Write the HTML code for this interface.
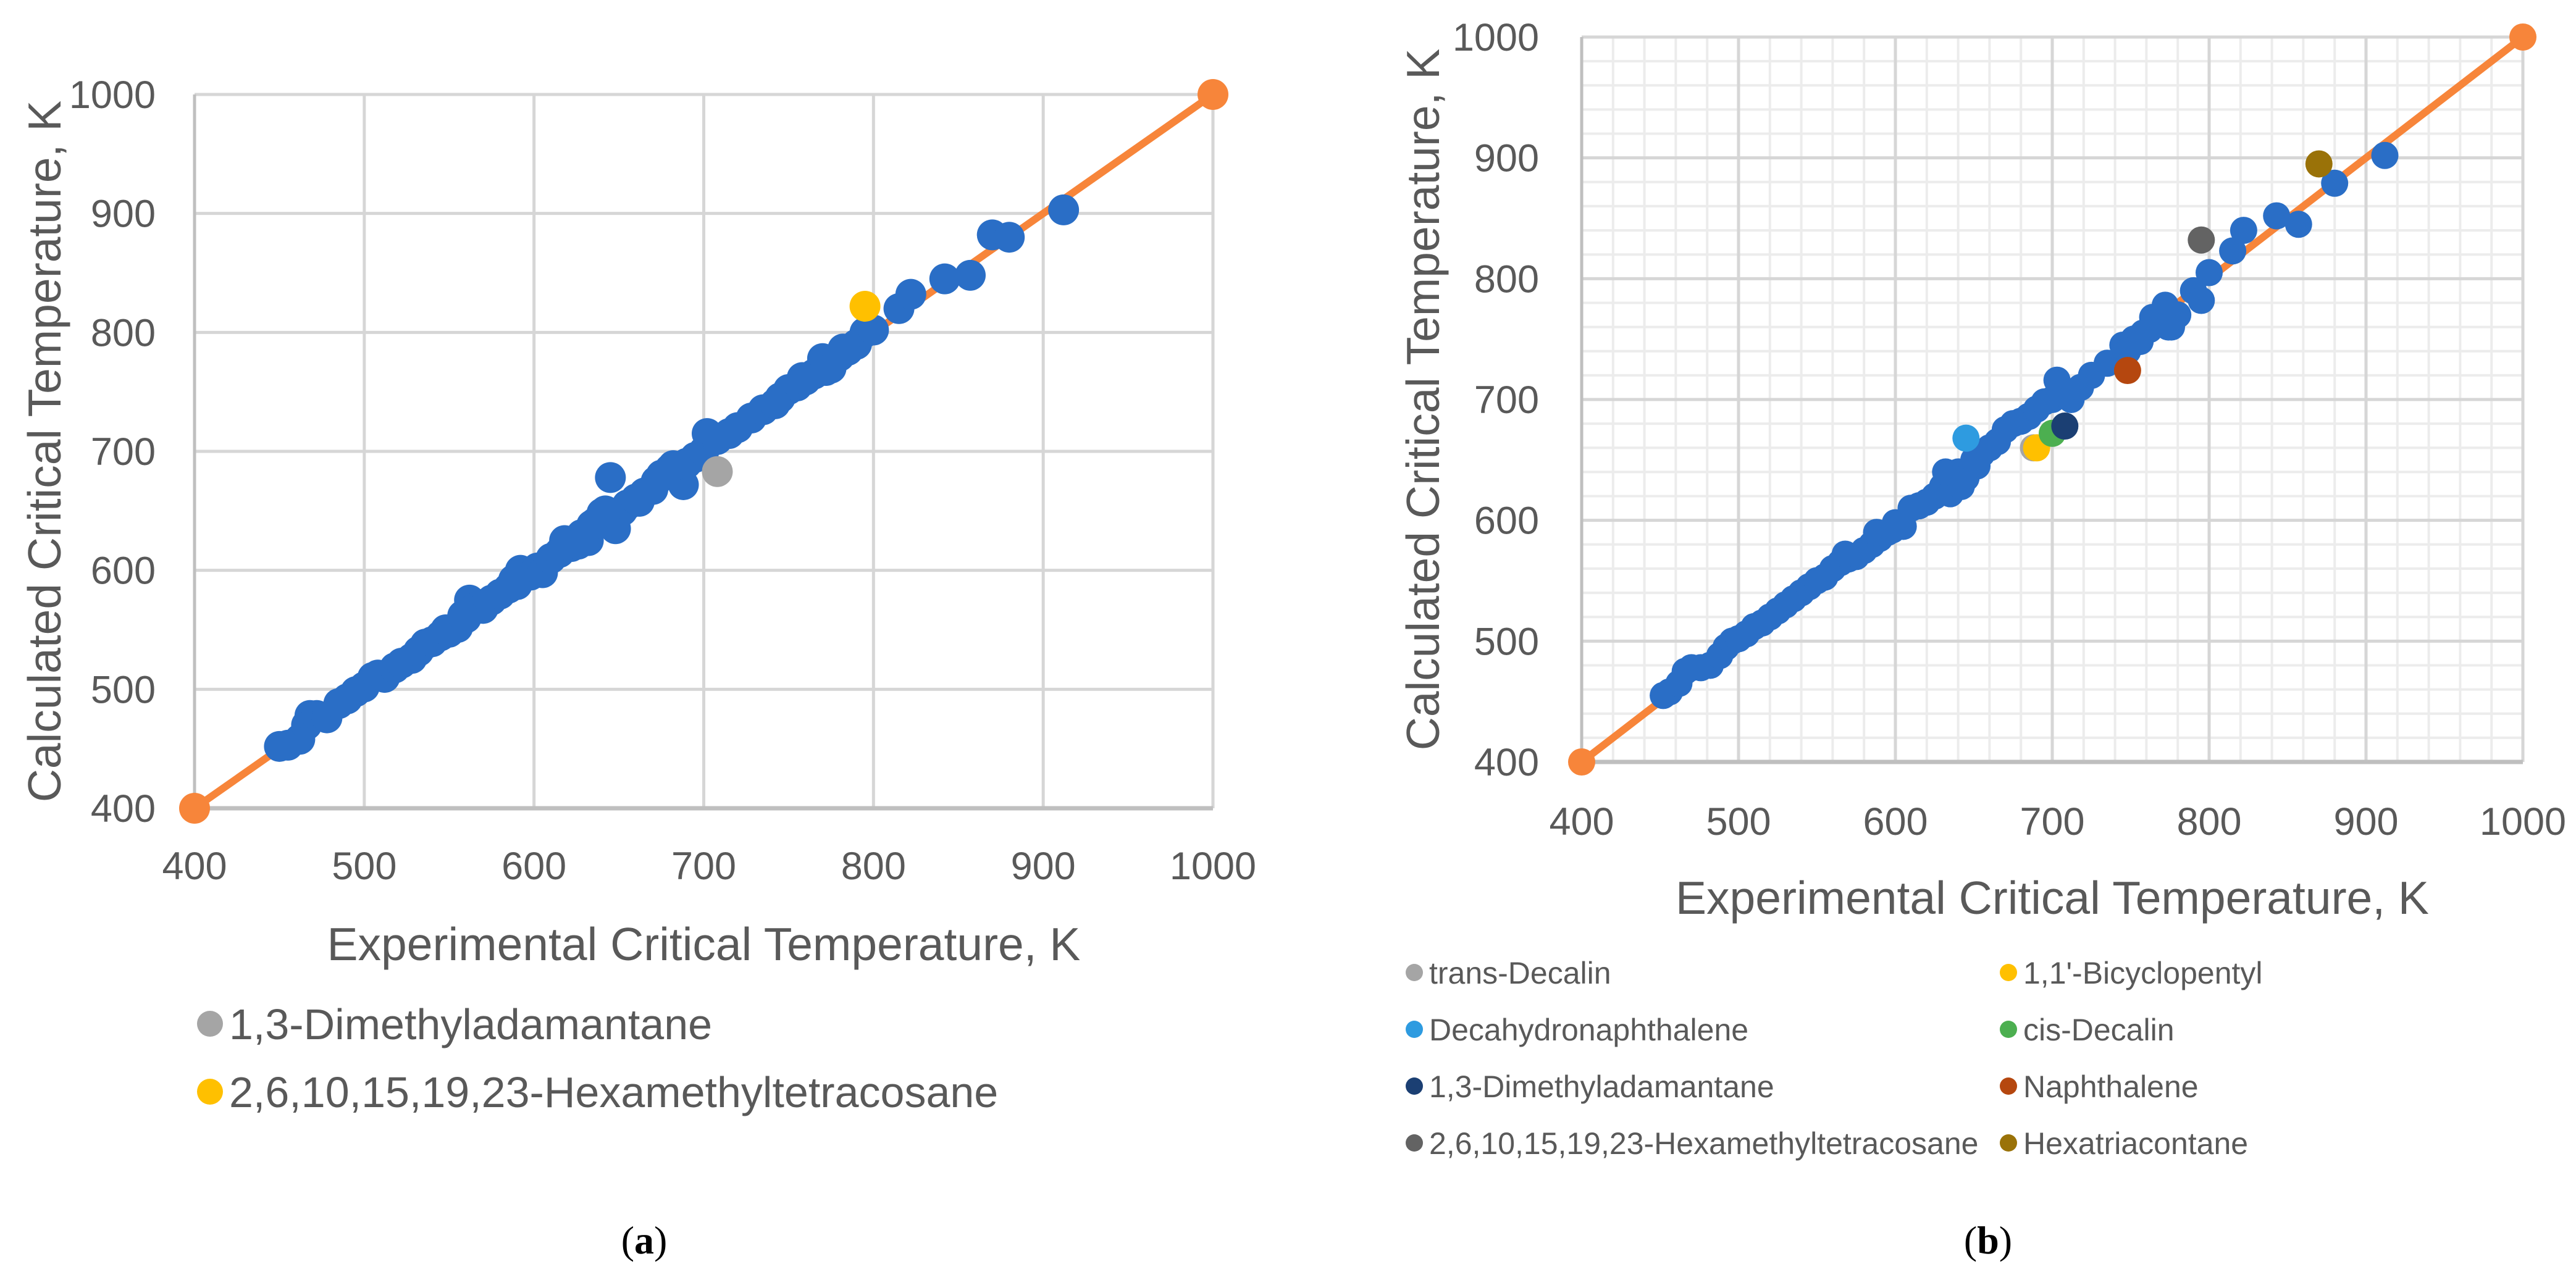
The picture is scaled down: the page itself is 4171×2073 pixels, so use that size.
<!DOCTYPE html>
<html><head><meta charset="utf-8"><style>
html,body{margin:0;padding:0;background:#fff;}
svg{display:block;font-family:"Liberation Sans",sans-serif;}
</style></head><body>
<svg id="fig" width="4171" height="2073" viewBox="0 0 4171 2073" xmlns="http://www.w3.org/2000/svg"></svg>
<script>
// ---- chart (a) data ----
const aExp = [450,455,462,466,468,472,478,485,490,495,500,505,508,512,518,522,528,532,536,540,545,550,555,560,562,565,570,575,580,585,590,592,598,602,605,610,615,618,622,628,632,636,640,645,648,652,655,660,665,670,675,680,685,688,690,695,700,702,708,715,720,728,735,745,750,755,760,765,770,775,780,785,790,795,800,815,822,842,857,870,880,912,548,558,588,626,634,642,662,672,682,742,758,772,782];
const aCalc = [452,453,458,470,478,478,476,488,492,498,502,510,512,510,518,522,526,532,538,540,545,548,552,560,575,568,568,575,580,585,588,600,596,602,598,610,615,625,620,630,625,640,648,678,635,650,655,660,665,668,680,685,682,672,690,695,700,715,710,715,720,728,735,745,752,755,760,765,778,770,780,785,790,800,802,820,832,845,848,882,880,903,550,562,592,622,638,650,658,675,688,740,762,768,786];
const aSpecialNames = ["1,3-Dimethyladamantane","2,6,10,15,19,23-Hexamethyltetracosane"];
const aSpecialExp = [708,795];
const aSpecialCalc = [683,822];
const aSpecialColors = ["#a5a5a5","#ffc000"];
// ---- chart (b) data ----
const bExp = [452,456,462,466,470,476,482,488,492,496,500,505,510,515,520,525,530,535,540,545,550,555,560,565,570,575,580,585,590,595,600,605,610,615,620,625,630,635,640,645,650,655,660,665,670,675,680,685,690,695,700,703,706,712,718,725,735,745,752,758,762,766,770,772,776,780,790,795,800,815,822,843,857,880,912,568,588,598,632,642,652,748,756,764,774];
const bCalc = [455,458,465,475,478,478,480,488,495,500,502,506,512,515,520,525,530,535,540,545,550,553,560,565,568,570,575,580,585,590,598,595,610,612,615,620,628,622,640,635,650,655,660,665,675,680,682,686,692,698,700,716,705,700,710,720,730,745,750,755,758,762,770,778,760,770,790,782,805,823,840,852,845,879,902,572,590,592,640,628,645,740,748,768,760];
const bSpecialNames = ["trans-Decalin","1,1'-Bicyclopentyl","Decahydronaphthalene","cis-Decalin","1,3-Dimethyladamantane","Naphthalene","2,6,10,15,19,23-Hexamethyltetracosane","Hexatriacontane"];
const bSpecialExp = [688,690,645,700,708,748,795,870];
const bSpecialCalc = [660,660,668,672,678,724,832,895];
const bSpecialColors = ["#a5a5a5","#ffc000","#2e9be0","#4caf50","#1b3f73","#b5470f","#636363","#9a7208"];
const axisTicks = [400,500,600,700,800,900,1000];
const lineEnds = [400,1000];

const NS="http://www.w3.org/2000/svg";
const svg=document.getElementById('fig');
function mk(tag,attrs,parent){const e=document.createElementNS(NS,tag);for(const k in attrs)e.setAttribute(k,attrs[k]);(parent||svg).appendChild(e);return e;}

function drawChart(c){
  const g=mk('g',{});
  
  
  const sx=v=>c.x0+(v-400)/600*(c.x1-c.x0);
  const sy=v=>c.y0-(v-400)/600*(c.y0-c.y1);
  if(c.minor){
    for(let v=420;v<1000;v+=20){ if(v%100===0) continue;
      const l1=mk('line',{x1:sx(v),x2:sx(v),y1:sy(400),y2:sy(1000),stroke:'#ececec','stroke-width':4},g);
      
      
      const l2=mk('line',{x1:sx(400),x2:sx(1000),y1:sy(v),y2:sy(v),stroke:'#ececec','stroke-width':4},g);
      
      
    }
  }
  axisTicks.forEach(v=>{
    const l1=mk('line',{x1:sx(v),x2:sx(v),y1:sy(400),y2:sy(1000),stroke:'#d6d6d6','stroke-width':5},g);
    
    
    const l2=mk('line',{x1:sx(400),x2:sx(1000),y1:sy(v),y2:sy(v),stroke:'#d6d6d6','stroke-width':5},g);
    
    
    const tx=mk('text',{x:sx(v),y:c.xTickY,'font-size':c.tickFs,fill:'#595959','text-anchor':'middle'},g);
    tx.textContent=v;
    
    
    const ty=mk('text',{x:c.yTickX,y:sy(v)+c.tickFs*0.35,'font-size':c.tickFs,fill:'#595959','text-anchor':'end'},g);
    ty.textContent=v;
    
    
  });
  const ax=mk('line',{x1:sx(400),x2:sx(1000),y1:sy(400),y2:sy(400),stroke:'#bfbfbf','stroke-width':7},g);
  
  
  const ay=mk('line',{x1:sx(400),x2:sx(400),y1:sy(400),y2:sy(1000),stroke:'#bfbfbf','stroke-width':5},g);
  
  
  const ln=mk('line',{x1:sx(lineEnds[0]),y1:sy(lineEnds[0]),x2:sx(lineEnds[1]),y2:sy(lineEnds[1]),stroke:'#f7853a','stroke-width':12},g);
  
  
  lineEnds.forEach(v=>{
    const e=mk('circle',{cx:sx(v),cy:sy(v),r:c.r,fill:'#f7853a'},g);
    
    
  });
  c.exp.forEach((v,i)=>{
    const p=mk('circle',{cx:sx(v),cy:sy(c.calc[i]),r:c.r,fill:'#2a6ec6'},g);
    
    
  });
  c.sExp.forEach((v,i)=>{
    const p=mk('circle',{cx:sx(v),cy:sy(c.sCalc[i]),r:c.r,fill:c.sCol[i]},g);
    
    
  });
  const xt=mk('text',{x:(c.x0+c.x1)/2,y:c.xTitleY,'font-size':c.titleFs,fill:'#595959','text-anchor':'middle'},g);
  xt.textContent='Experimental Critical Temperature, K';
  
  
  const yt=mk('text',{x:0,y:0,'font-size':c.titleFs,fill:'#595959','text-anchor':'middle',transform:`translate(${c.yTitleX},${(c.y0+c.y1)/2}) rotate(-90)`},g);
  yt.textContent='Calculated Critical Temperature, K';
  
  
  c.names.forEach((n,i)=>{
    const col=c.legCols?i%2:0, row=c.legCols?Math.floor(i/2):i;
    const lx=c.legX[col], ly=c.legY0+row*c.legDy;
    const m=mk('circle',{cx:lx,cy:ly,r:c.legR,fill:c.sCol[i]},g);
    
    
    const t=mk('text',{x:lx+c.legR+10,y:ly+c.legFs*0.36,'font-size':c.legFs,fill:'#595959'},g);
    t.textContent=n;
    
    
  });
  const cap=mk('text',{x:c.capX,y:2030,'font-size':64,fill:'#000','text-anchor':'middle','font-family':'Liberation Serif, serif'},g);
  cap.innerHTML='(<tspan font-weight="bold">'+c.id+'</tspan>)';
  
  
}

drawChart({id:'a',x0:315,x1:1964,y0:1309,y1:153,minor:false,r:25,exp:aExp,calc:aCalc,sExp:aSpecialExp,sCalc:aSpecialCalc,sCol:aSpecialColors,names:aSpecialNames,
  tickFs:63,xTickY:1424,yTickX:252,titleFs:75,xTitleY:1555,yTitleX:98,legCols:false,legX:[340],legY0:1658,legDy:110,legR:21,legFs:70,capX:1043});
drawChart({id:'b',x0:2561,x1:4085,y0:1234,y1:60,minor:true,r:22,exp:bExp,calc:bCalc,sExp:bSpecialExp,sCalc:bSpecialCalc,sCol:bSpecialColors,names:bSpecialNames,
  tickFs:63,xTickY:1352,yTickX:2492,titleFs:75,xTitleY:1480,yTitleX:2330,legCols:true,legX:[2290,3252],legY0:1575,legDy:92,legR:14,legFs:50,capX:3219});
</script>
</body></html>
